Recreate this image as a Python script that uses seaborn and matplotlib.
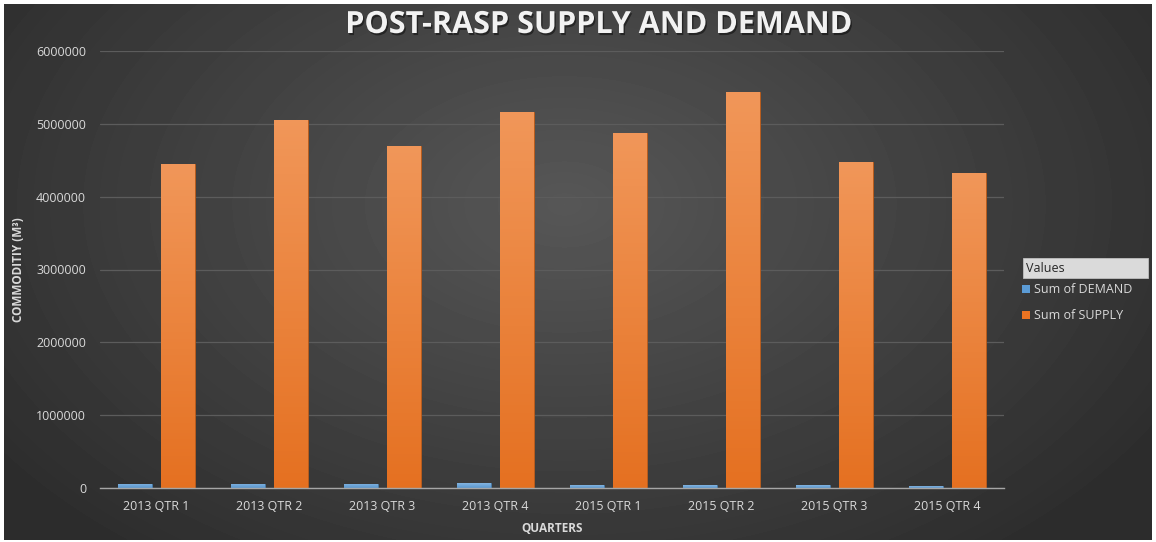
import numpy as np
import pandas as pd
import matplotlib
matplotlib.use('Agg')
import matplotlib.pyplot as plt
import matplotlib.patheffects as pe
import seaborn as sns
from matplotlib.patches import Rectangle
from matplotlib.colors import to_rgb
from matplotlib.ticker import FuncFormatter

quarters = ['2013 QTR 1', '2013 QTR 2', '2013 QTR 3', '2013 QTR 4',
            '2015 QTR 1', '2015 QTR 2', '2015 QTR 3', '2015 QTR 4']
demand = [60000, 61000, 60000, 62000, 41000, 41000, 41000, 27000]
supply = [4445000, 5053000, 4690000, 5159000, 4874000, 5437000, 4476000, 4330000]
series = ['Sum of DEMAND', 'Sum of SUPPLY']
colors = ['#5B9BD5', '#EC7422']

df = pd.DataFrame({
    'Quarter': quarters * 2,
    'Series': [series[0]] * len(quarters) + [series[1]] * len(quarters),
    'Value': demand + supply,
})

sns.set_theme(style='dark')
plt.rcParams['font.family'] = ['Open Sans', 'DejaVu Sans']

W, H = 1156, 542
fig = plt.figure(figsize=(W / 100, H / 100), dpi=100)
fig.patch.set_facecolor('white')

# dark radial background like the excel theme
bg = fig.add_axes([4 / W, 2 / H, (W - 8) / W, (H - 6) / H], zorder=0)
bh, bw = 536, 1148
yy, xx = np.mgrid[0:bh, 0:bw]
d = np.sqrt(((xx - 560) / 700) ** 2 + ((yy - 200) / 450) ** 2)
shade = 0.34 - 0.165 * np.clip(d, 0, 1)
bg.imshow(shade, cmap='gray', vmin=0, vmax=1, aspect='auto')
bg.axis('off')

ax = fig.add_axes([100 / W, 1 - 488 / H, 904 / W, (488 - 51) / H], zorder=1)
ax.patch.set_alpha(0)

sns.barplot(data=df, x='Quarter', y='Value', hue='Series', palette=colors,
            width=0.76, gap=0.21, saturation=1, ax=ax)

# vertical gradient on each bar
for p in list(ax.patches):
    x, y, w, h = p.get_x(), p.get_y(), p.get_width(), p.get_height()
    if h <= 0 or w >= 1:
        continue
    base = np.array(to_rgb(p.get_facecolor()))
    top = base + (1 - base) * 0.25
    bot = base * 0.97
    t = np.linspace(0, 1, 100)[:, None]
    grad = (top * (1 - t) + bot * t)[:, None, :]
    im = ax.imshow(grad, extent=[x, x + w, y, y + h], aspect='auto',
                   origin='upper', zorder=p.get_zorder() + 0.1)
    im.set_clip_path(p)
    p.set_edgecolor(tuple(base * 0.8))
    p.set_linewidth(0.6)

ax.set_xlim(-0.5, len(quarters) - 0.5)
ax.set_ylim(0, 6000000)
ax.set_yticks(np.arange(0, 6000001, 1000000))
ax.yaxis.set_major_formatter(FuncFormatter(lambda v, _: f'{int(v)}'))
ax.set_aspect('auto')

ax.grid(axis='y', color='#5C5C5C', lw=0.9)
ax.grid(axis='x', visible=False)
ax.set_axisbelow(True)
for s in ['top', 'right', 'left']:
    ax.spines[s].set_visible(False)
ax.spines['bottom'].set_color('#A6A6A6')
ax.spines['bottom'].set_linewidth(1)
ax.spines['bottom'].set_zorder(5)

ax.tick_params(axis='y', length=0, pad=10, labelsize=9, labelcolor='#D9D9D9')
ax.tick_params(axis='x', length=0, pad=9, labelsize=9, labelcolor='#D9D9D9')

ax.set_xlabel('QUARTERS', fontsize=8.5, fontweight='bold', color='#D9D9D9', labelpad=6)
ax.set_ylabel('COMMODITIY (M³)', fontsize=8.5, fontweight='bold', color='#D9D9D9', labelpad=8)

fig.text(598 / W, 1 - 25 / H, 'POST-RASP SUPPLY AND DEMAND', ha='center', va='center',
         fontsize=22, fontweight='bold', color='#F2F2F2',
         path_effects=[pe.withSimplePatchShadow(offset=(1, -1.5), shadow_rgbFace='black', alpha=0.45)])

# legend
fig.add_artist(Rectangle((1023 / W, 1 - 278 / H), 125 / W, 20 / H, transform=fig.transFigure,
                         facecolor='#DADADA', edgecolor='#BFBFBF', lw=0.6, zorder=3))
fig.text(1026 / W, 1 - 268 / H, 'Values', ha='left', va='center', fontsize=9,
         color='#262626', zorder=4)
sns.move_legend(ax, loc='upper left', bbox_to_anchor=(1022 / W, 1 - 283 / H),
                bbox_transform=fig.transFigure, title=None, frameon=False,
                fontsize=9, handlelength=0.6, handleheight=0.6, handletextpad=0.35,
                labelspacing=1.05, borderpad=0, borderaxespad=0)
leg = ax.get_legend()
for txt in leg.get_texts():
    txt.set_color('#D9D9D9')
for hnd, c in zip(leg.legend_handles, colors):
    hnd.set_edgecolor('none')
    hnd.set_facecolor(c)

fig.savefig('out.png', dpi=100, facecolor=fig.get_facecolor())
